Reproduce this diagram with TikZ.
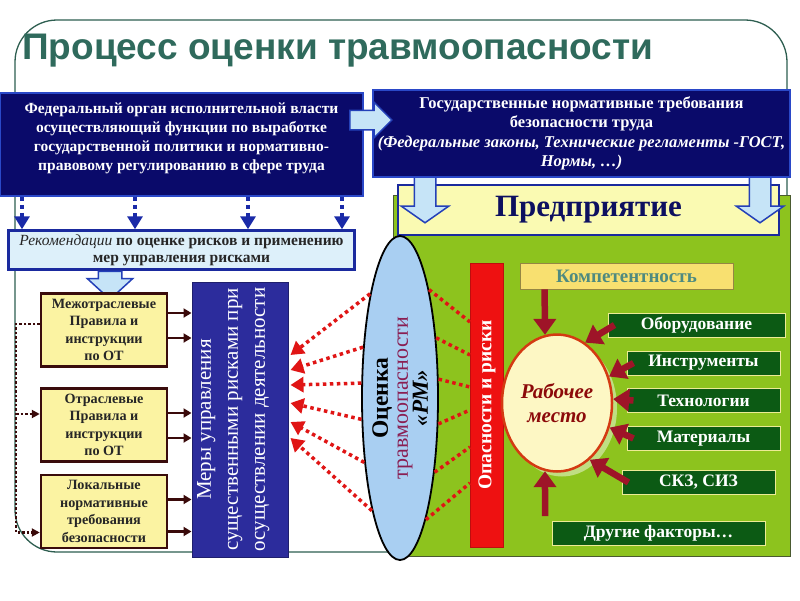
\documentclass[tikz,border=0pt]{standalone}
\usepackage{fontspec}
\setmainfont{Liberation Serif}
\newfontfamily\headfont{Liberation Sans}
\usepackage{graphicx}
\usetikzlibrary{arrows.meta}
\usetikzlibrary{calc}
\usetikzlibrary{shapes.geometric}
\usetikzlibrary{shapes.arrows}
\usetikzlibrary{shadows}
\definecolor{framegreen}{HTML}{2E5E50}
\definecolor{titlegreen}{HTML}{2F6A5C}
\definecolor{navyfill}{HTML}{0A0A6A}
\definecolor{navyedge}{HTML}{2A48C8}
\definecolor{skyfill}{HTML}{C6E4F7}
\definecolor{skyedge}{HTML}{2440B8}
\definecolor{recfill}{HTML}{DDF0FA}
\definecolor{recedge}{HTML}{1A2A9E}
\definecolor{rulefill}{HTML}{FBF3A2}
\definecolor{ruleedge}{HTML}{3A0C0C}
\definecolor{meryfill}{HTML}{2C2C9C}
\definecolor{leaf}{HTML}{8DC31E}
\definecolor{leafedge}{HTML}{4A5A30}
\definecolor{predfill}{HTML}{FAFAB2}
\definecolor{predtext}{HTML}{0D1060}
\definecolor{ovalfill}{HTML}{A9CFF2}
\definecolor{plum}{HTML}{8A1E52}
\definecolor{hazard}{HTML}{EE1111}
\definecolor{dotred}{HTML}{E01515}
\definecolor{kompfill}{HTML}{F8E070}
\definecolor{komptext}{HTML}{4E8A80}
\definecolor{pine}{HTML}{0C5A14}
\definecolor{pineedge}{HTML}{EDEB95}
\definecolor{placefill}{HTML}{FDF7C4}
\definecolor{placeedge}{HTML}{D43A12}
\definecolor{placetext}{HTML}{8C0A0A}
\definecolor{wine}{HTML}{9E1428}
\definecolor{dotblue}{HTML}{1A2AA8}
\definecolor{brownline}{HTML}{3A0A0A}

\begin{document}
\begin{tikzpicture}[x=1pt,y=-1pt]
\tikzset{
  darkbox/.style={draw=navyedge, line width=1.5pt, fill=navyfill, text=white,
    font=\bfseries\fontsize{15.5}{19}\selectfont, align=center, inner sep=0pt},
  recbox/.style={draw=recedge, line width=2.5pt, fill=recfill, text=black!85,
    font=\fontsize{15.5}{17}\selectfont, align=center, inner sep=0pt,
    minimum width=346pt, minimum height=39pt},
  rulebox/.style={draw=ruleedge, line width=2.5pt, fill=rulefill, text=black!85,
    font=\bfseries\fontsize{14.2}{17.5}\selectfont, align=center, inner sep=0pt,
    minimum width=126pt, minimum height=73pt},
  merybox/.style={draw=meryfill!70!black, line width=1pt, fill=meryfill, text=white,
    font=\fontsize{21}{27}\selectfont, inner sep=0pt,
    minimum width=94pt, minimum height=275pt},
  fatarrow/.style={single arrow, draw=skyedge, line width=1.5pt, fill=skyfill,
    inner sep=0pt},
  bluedots/.style={dotblue, line width=4.5pt, dash pattern=on 4.5pt off 3.5pt,
    -{Triangle[width=15pt,length=13pt]}},
  brownarrow/.style={brownline, line width=2.5pt, -{Triangle[width=9pt,length=8pt]}},
  browndots/.style={brownline, line width=2.5pt, dash pattern=on 2.5pt off 2pt},
  reddots/.style={dotred, line width=3.5pt, dash pattern=on 3.5pt off 3.5pt},
  oval/.style={ellipse, draw=black, line width=1.8pt, fill=ovalfill, inner sep=0pt,
    minimum width=76pt, minimum height=324pt},
  hazardbar/.style={draw=hazard!80!black, line width=1pt, fill=hazard, text=white,
    font=\bfseries\fontsize{19.5}{21}\selectfont, inner sep=0pt,
    minimum width=33pt, minimum height=284pt},
  place/.style={ellipse, draw=placeedge, line width=2.5pt, fill=placefill,
    text=placetext, font=\bfseries\itshape\fontsize{21}{24}\selectfont, align=center,
    inner sep=0pt, minimum width=110pt, minimum height=137pt,
    drop shadow={shadow xshift=5pt, shadow yshift=-5pt, fill=leaf!55!white, opacity=1}},
  factor/.style={draw=pineedge, line width=1pt, fill=pine, text=white,
    font=\bfseries\fontsize{17.5}{19}\selectfont, inner sep=0pt,
    minimum width=153pt, minimum height=24pt},
  winearrow/.style={wine, line width=6.5pt, -{Triangle[width=22pt,length=16pt]}}
}
\useasboundingbox (0,0) rectangle (800,600);
\fill[white] (0,0) rectangle (800,600);
\draw[framegreen, line width=1.3pt, rounded corners=42pt] (15,20) rectangle (787,552);
\node[anchor=base west, inner sep=0pt, text=titlegreen,
  font=\headfont\bfseries\fontsize{37}{40}\selectfont] (title) at (22,59)
  {Процесс оценки травмоопасности};

\filldraw[fill=leaf, draw=leafedge, line width=1pt] (393,195) rectangle (790,556);
\node[draw=recedge, line width=2.5pt, fill=predfill, text=predtext,
  font=\bfseries\fontsize{31}{33}\selectfont, inner sep=0pt,
  minimum width=381pt, minimum height=50pt] (pred) at (588.5,210) {Предприятие};
\node[fatarrow, rotate=-90, minimum height=49pt, inner ysep=10pt,
  single arrow head extend=13pt, single arrow tip angle=110] (a2) at (425,194.5) {};
\node[fatarrow, rotate=-90, minimum height=49pt, inner ysep=10pt,
  single arrow head extend=13pt, single arrow tip angle=110] (a3) at (760,194.5) {};

\node[darkbox, minimum width=417pt, minimum height=87pt,
  font=\bfseries\fontsize{16.5}{19.5}\selectfont] (gost) at (581.5,133.5)
  {Государственные нормативные требования\\ безопасности труда\\
   \textit{(Федеральные законы, Технические регламенты -ГОСТ,}\\ \textit{Нормы, …)}};
\node[darkbox, minimum width=363pt, minimum height=103pt] (organ) at (181.5,144.5)
  {Федеральный орган исполнительной власти\\ осуществляющий функции по выработке\\
   государственной политики и нормативно-\\ правовому регулированию в сфере труда\\[-3pt]{}};
\node[fatarrow, minimum height=42pt, inner ysep=9pt,
  single arrow head extend=8pt] (a1) at (366,120) {};

\node[recbox] (rek) at (181.5,250)
  {\textit{Рекомендации} \textbf{по оценке рисков и применению}\\ \textbf{мер управления рисками}};
\foreach \x in {22,135,248,342}
  \draw[bluedots] (organ.south -| \x,0) -- (rek.north -| \x,0);
\node[fatarrow, rotate=-90, minimum height=28pt, inner ysep=11pt,
  single arrow head extend=11pt, single arrow tip angle=95] (a4) at (110,280) {};

\node[rulebox] (mezh) at (104,330) {Межотраслевые\\ Правила и\\ инструкции\\ по ОТ};
\node[rulebox] (otr) at (104,425) {Отраслевые\\ Правила и\\ инструкции\\ по ОТ};
\node[rulebox] (lok) at (104,511.5) {Локальные\\ нормативные\\ требования\\ безопасности};
\node[merybox] (mery) at (240,419.5) {\rotatebox{90}{\begin{tabular}{@{}c@{}}Меры управления\\
  существенными рисками при\\ осуществлении деятельности\\[-12pt] {}\end{tabular}}};

\foreach \b/\ua/\ub in {mezh/-17/8, otr/-12/13, lok/-12/20}
  \foreach \d in {\ua,\ub}
    \draw[brownarrow] ($(\b.east)+(0,\d)$) -- ($(\b.east -| mery.west)+(0,\d)$);
\coordinate (lv) at (16,0);
\draw[browndots, -{Triangle[width=8pt,length=8pt]}] ($(mezh.west)+(0,-6)$)
  -| ($(lok.west -| lv)+(0,21)$) -- ($(lok.west)+(0,21)$);
\draw[browndots, -{Triangle[width=8pt,length=8pt]}] ($(otr.west -| lv)+(0,-11)$)
  -- ($(otr.west)+(0,-11)$);

\node[oval] (ocenka) at (400,398) {};
\node[rotate=90, align=center, inner sep=0pt, font=\fontsize{22}{20}\selectfont]
  (ocenkatext) at (ocenka.center)
  {{\bfseries\fontsize{23.5}{20}\selectfont Оценка}\\ {\color{plum}травмоопасности}\\
   {\bfseries\itshape\fontsize{23}{20}\selectfont «РМ»}};
\foreach \a/\d in {106/-64.5, 126/-49.5, 159/-34.5, 209/-16.5, 241/2.5, 256/18.5}
  \draw[reddots, -{Triangle[width=15pt,length=13pt]}] (ocenka.\a)
    -- ($(mery.east)+(2,\d)$);

\node[hazardbar] (opas) at (487,405) {\rotatebox{90}{Опасности и риски}};
\foreach \a/\d in {75/-83, 59/-50, 26/-18, 326/5, 295/42, 282/78}
  \draw[reddots] (ocenka.\a) -- ($(opas.west)+(0,\d)$);

\node[draw=kompfill!60!black, line width=0.8pt, fill=kompfill, text=komptext,
  font=\bfseries\fontsize{19}{20}\selectfont, inner sep=0pt,
  minimum width=213pt, minimum height=26pt] (komp) at (626.5,276) {Компетентность};
\node[place] (rm) at (557,403) {Рабочее\\ место};

\node[factor, minimum width=177pt] (oborud) at (696.5,325) {Оборудование};
\node[factor] (instr) at (703.5,363) {Инструменты};
\node[factor] (tekh) at (703.5,400.5) {Технологии};
\node[factor] (mater) at (703.5,438.5) {Материалы};
\node[factor] (skz) at (698.5,482.5) {СКЗ, СИЗ};
\node[factor, minimum width=213pt] (drugie) at (658.5,533.5) {Другие факторы…};

\draw[winearrow] ($(komp.south west)+(25,0)$) -- (rm.100);
\foreach \f/\a in {oborud/65, instr/27, tekh/4, mater/335, skz/300}
  \draw[winearrow] ($(\f.west)+(7,0)$) -- (rm.\a);
\coordinate (niz) at (545,516);
\draw[winearrow] (niz) -- (rm.260);
\end{tikzpicture}
\end{document}
